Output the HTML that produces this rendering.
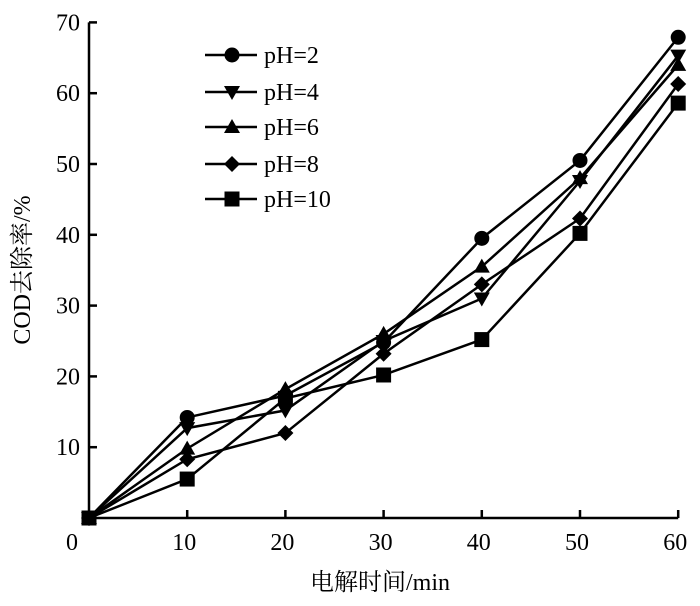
<!DOCTYPE html>
<html><head><meta charset="utf-8"><style>
body{margin:0;background:#fff}
svg text{font-family:"Liberation Serif","Noto Serif CJK SC",serif;fill:#000}
</style></head><body>
<svg width="700" height="601" viewBox="0 0 700 601">
<g id="axes"></g><g id="series"></g><g id="legend"></g>
<text x="380" y="590" font-size="24" text-anchor="middle">电解时间/min</text>
<text transform="translate(30,270) rotate(-90)" font-size="24" text-anchor="middle">COD去除率/%</text>
</svg>
<script>
const categories=[0,10,20,30,40,50,60];
const labels=["pH=2","pH=4","pH=6","pH=8","pH=10"];
const pH2=[0,14.2,17.3,24.8,39.5,50.5,67.9];
const pH4=[0,12.7,15.2,25.0,31.0,47.6,65.3];
const pH6=[0,9.8,18.2,26.0,35.5,48.0,64.0];
const pH8=[0,8.3,12.0,23.2,33.0,42.3,61.3];
const pH10=[0,5.5,16.9,20.2,25.2,40.2,58.6];
const xTicks=[0,10,20,30,40,50,60];
const yTicks=[10,20,30,40,50,60,70];
const series=[pH2,pH4,pH6,pH8,pH10];
const markers=["circle","down","up","diamond","square"];
const NS="http://www.w3.org/2000/svg";
const X=v=>89+v*9.82, Y=v=>518-v*7.08;
function mk(tag,at,parent){const e=document.createElementNS(NS,tag);for(const k in at)e.setAttribute(k,at[k]);parent.appendChild(e);return e;}
const axes=document.getElementById('axes');
const ax=mk('path',{d:`M${X(0)},${Y(70)}H${X(0)}V${Y(0)}H${X(60)}`,stroke:'#000','stroke-width':2.5,fill:'none'},axes);


xTicks.forEach(t=>{
 if(t>0){const l=mk('line',{x1:X(t),x2:X(t),y1:Y(0),y2:Y(0)-8,stroke:'#000','stroke-width':2.5},axes);
 
 }
 const tx=mk('text',{x:t===0?72:X(t)-3,y:550,'font-size':24,'text-anchor':'middle'},axes);tx.textContent=t;
 
 
});
yTicks.forEach(t=>{
 const l=mk('line',{x1:X(0),x2:X(0)+8,y1:Y(t),y2:Y(t),stroke:'#000','stroke-width':2.5},axes);
 
 
 const tx=mk('text',{x:X(0)-9,y:Y(t)+8,'font-size':24,'text-anchor':'end'},axes);tx.textContent=t;
 
 
});
function marker(type,x,y,p){
 let e;
 if(type==='circle')e=mk('circle',{cx:x,cy:y,r:7.5},p);
 else if(type==='square')e=mk('rect',{x:x-7.5,y:y-7.5,width:15,height:15},p);
 else if(type==='down')e=mk('polygon',{points:`${x-8},${y-6} ${x+8},${y-6} ${x},${y+8}`},p);
 else if(type==='up')e=mk('polygon',{points:`${x-8},${y+6} ${x+8},${y+6} ${x},${y-8}`},p);
 else e=mk('polygon',{points:`${x},${y-8} ${x+8},${y} ${x},${y+8} ${x-8},${y}`},p);
 e.setAttribute('fill','#000');
 return e;
}
const sg=document.getElementById('series');
series.forEach((s,i)=>{
 const g=mk('g',{},sg);
 
 
 const ln=mk('polyline',{points:s.map((v,j)=>X(categories[j])+','+Y(v)).join(' '),fill:'none',stroke:'#000','stroke-width':2.5},g);
 
 
 s.forEach((v,j)=>{const m=marker(markers[i],X(categories[j]),Y(v),g);
  
  });
});
const lg=document.getElementById('legend');
const rows=[55,92,127,164,199];
labels.forEach((lab,i)=>{
 const g=mk('g',{},lg);
 
 
 mk('line',{x1:205,x2:257,y1:rows[i],y2:rows[i],stroke:'#000','stroke-width':2.5},g);
 marker(markers[i],232,rows[i],g);
 const t=mk('text',{x:264,y:rows[i]+8,'font-size':24},g);t.textContent=lab;
});
</script>
</body></html>
